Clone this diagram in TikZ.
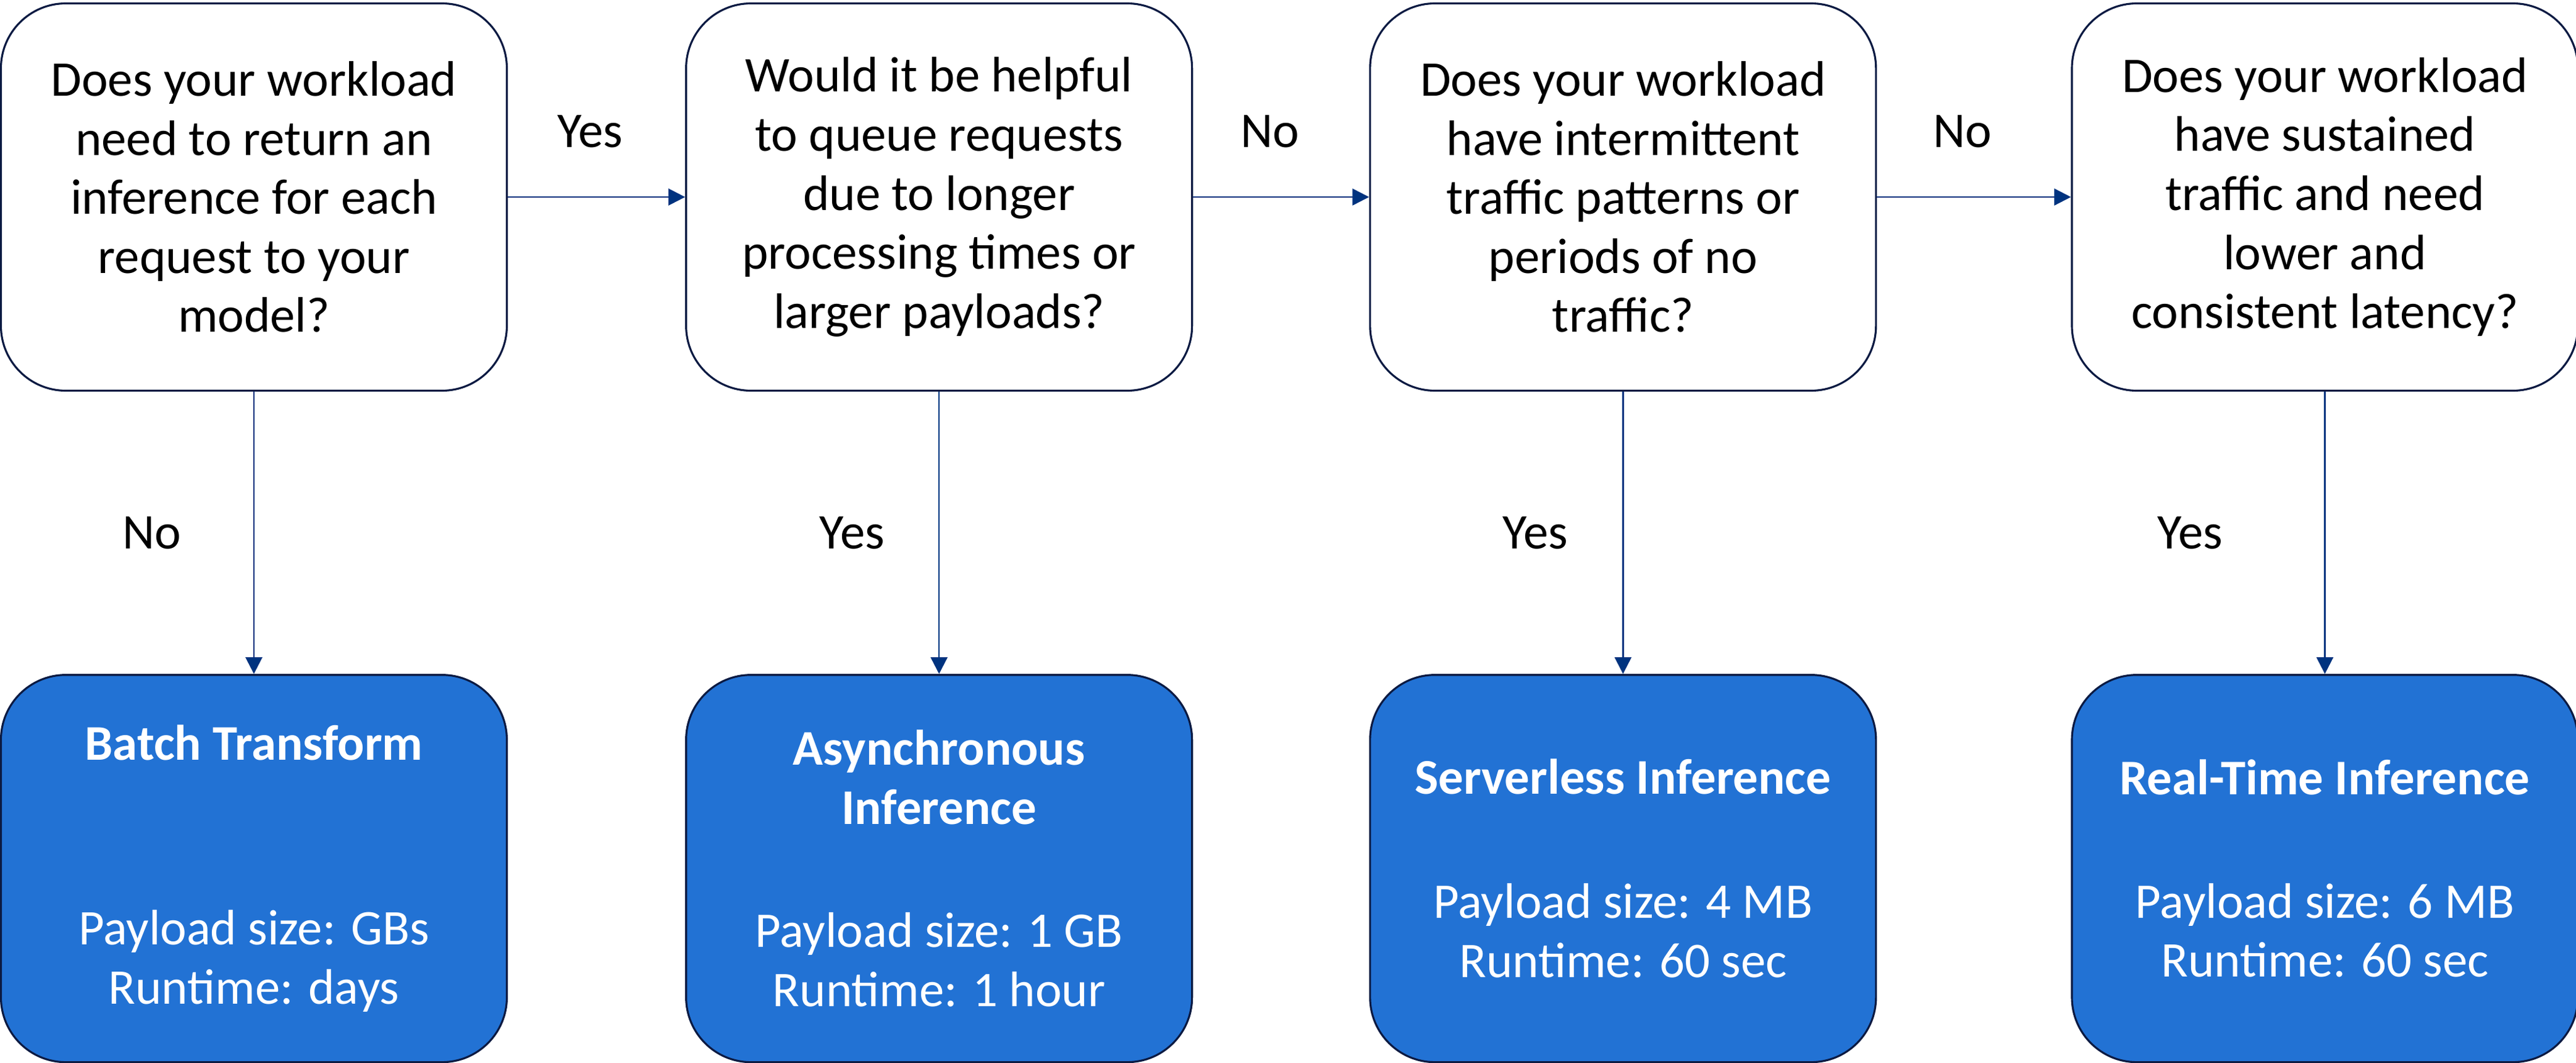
\documentclass[tikz,border=0pt]{standalone}
\usepackage{fontspec}
\setmainfont{Carlito}
\usepackage{tikz}
\usetikzlibrary{arrows.meta, positioning}

\definecolor{boxline}{HTML}{0B1A42}
\definecolor{arrowblue}{HTML}{00337F}
\definecolor{resultblue}{HTML}{2272D4}

\begin{document}
\begin{tikzpicture}[
        node distance=2.87cm,
        box/.style={rectangle, draw=boxline, line width=0.9pt, rounded corners=1.05cm, minimum width=8.19cm, minimum height=6.27cm, align=center, font=\fontsize{23}{27.2}\selectfont},
        questionbox/.style={box, fill=white},
        resultbox/.style={box, fill=resultblue, text=white},
        lbl/.style={font=\fontsize{23}{27.2}\selectfont},
        arrow/.style={-{Triangle[length=0.27cm, width=0.27cm]}, draw=arrowblue, line width=0.75pt}
    ]
    \useasboundingbox (0,0) rectangle (41.70,-17.21);

    % Question Section
    \node[questionbox] (needinf) at (4.11,-3.19) {Does your workload\\need to return an\\inference for each\\request to your\\model?};
    \node[questionbox, right=of needinf] (queue) {Would it be helpful\\to queue requests\\due to longer\\processing times or\\larger payloads?};
    \node[questionbox, right=2.85cm of queue] (intermit) {Does your workload\\have intermittent\\traffic patterns or\\periods of no\\traffic?};
    \node[questionbox, right=3.14cm of intermit] (sustain) {Does your workload\\have sustained\\traffic and need\\lower and\\consistent latency?};

    % Result Section
    \node[resultbox, below=4.57cm of needinf] (batch) {\textbf{Batch Transform}\\[58pt]Payload size: GBs\\Runtime: days};
    \node[resultbox, below=4.57cm of queue] (async) {\textbf{Asynchronous}\\\textbf{Inference}\\[29.5pt]Payload size: 1 GB\\Runtime: 1 hour};
    \node[resultbox, below=4.57cm of intermit] (serverless) {\textbf{Serverless Inference}\\[30pt]Payload size: 4 MB\\Runtime: 60 sec};
    \node[resultbox, below=4.57cm of sustain] (realtime) {\textbf{Real-Time Inference}\\[29.5pt]Payload size: 6 MB\\Runtime: 60 sec};

    % Arrows
    \draw[arrow] (needinf) -- node[lbl, midway, xshift=-0.1cm, yshift=1.06cm] (yes1) {Yes} (queue);
    \draw[arrow] (queue) -- node[lbl, midway, xshift=-0.18cm, yshift=1.06cm] (no2) {No} (intermit);
    \draw[arrow] (intermit) -- node[lbl, midway, xshift=-0.19cm, yshift=1.06cm] (no3) {No} (sustain);
    \draw[arrow] (needinf) -- node[lbl, midway, xshift=-1.65cm] (no1) {No} (batch);
    \draw[arrow] (queue) -- node[lbl, midway, xshift=-1.41cm] (yes2) {Yes} (async);
    \draw[arrow] (intermit) -- node[lbl, midway, xshift=-1.42cm] (yes3) {Yes} (serverless);
    \draw[arrow] (sustain) -- node[lbl, midway, xshift=-2.18cm] (yes4) {Yes} (realtime);

\end{tikzpicture}
\end{document}
